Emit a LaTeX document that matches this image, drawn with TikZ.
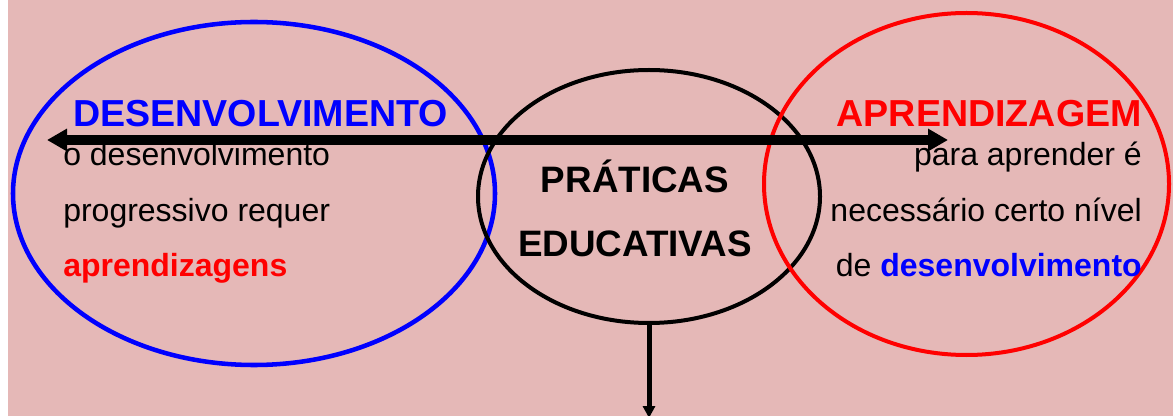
\documentclass[tikz,border=0pt]{standalone}
\usepackage{fontspec}
\setmainfont{Liberation Sans}
\usetikzlibrary{shapes.geometric,arrows.meta}
\definecolor{bgpink}{HTML}{E5B8B7}
\definecolor{myblue}{HTML}{0000FF}
\definecolor{myred}{HTML}{FF0000}
\begin{document}
\begin{tikzpicture}[x=0.75pt,y=-0.75pt,
  ring/.style={ellipse,draw,inner sep=0pt},
  head/.style={inner sep=0pt,font=\fontsize{28.2pt}{31pt}\selectfont\bfseries},
  chead/.style={inner sep=0pt,font=\fontsize{27.6pt}{31pt}\selectfont\bfseries},
  body/.style={inner sep=0pt,font=\fontsize{24pt}{28pt}\selectfont},
  bigarrow/.style={line width=7.5pt,{Triangle[length=15pt,width=16pt]}-{Triangle[length=15pt,width=16pt]}},
  downarrow/.style={line width=3.75pt,-{Triangle[length=9pt,width=9pt]}}]
\useasboundingbox (0,0) rectangle (1173,416);
\fill[white] (0,0) rectangle (1173,416);
\fill[bgpink] (8,0) rectangle (1173,416);
\node[ring,draw=myblue,line width=3.4pt,minimum width=361.5pt,minimum height=257.25pt] (dev) at (254,193.5) {};
\node[ring,draw=black,line width=3pt,minimum width=256.5pt,minimum height=189.75pt] (edu) at (649,196.5) {};
\node[ring,draw=myred,line width=3pt,minimum width=303.75pt,minimum height=256.5pt] (apr) at (966.5,184) {};
\coordinate (la) at (47,140);
\coordinate (ra) at (948,140);
\draw[bigarrow] (la) -- (ra);
\coordinate (dn) at (649,418);
\draw[downarrow] (edu.south) -- (dn);
\node[head,text=myblue,anchor=base west] (t1) at (73,127) {DESENVOLVIMENTO};
\node[head,text=myred,anchor=base east] (t2) at (1142,127) {APRENDIZAGEM};
\node[body,anchor=base west] (l1) at (63,166) {o desenvolvimento};
\node[body,anchor=base west] (l2) at (63,222) {progressivo requer};
\node[body,anchor=base west,text=myred,font=\fontsize{24pt}{28pt}\selectfont\bfseries] (l3) at (63,277) {aprendizagens};
\node[body,anchor=base east] (r1) at (1142,166) {para aprender é};
\node[body,anchor=base east] (r2) at (1142,222) {necessário certo nível};
\node[body,anchor=base east] (r3) at (1142,277) {de \textcolor{myblue}{\bfseries desenvolvimento}};
\node[chead,anchor=base] (c1) at (635,193) {PRÁTICAS};
\node[chead,anchor=base] (c2) at (635,257) {EDUCATIVAS};
\end{tikzpicture}
\end{document}
